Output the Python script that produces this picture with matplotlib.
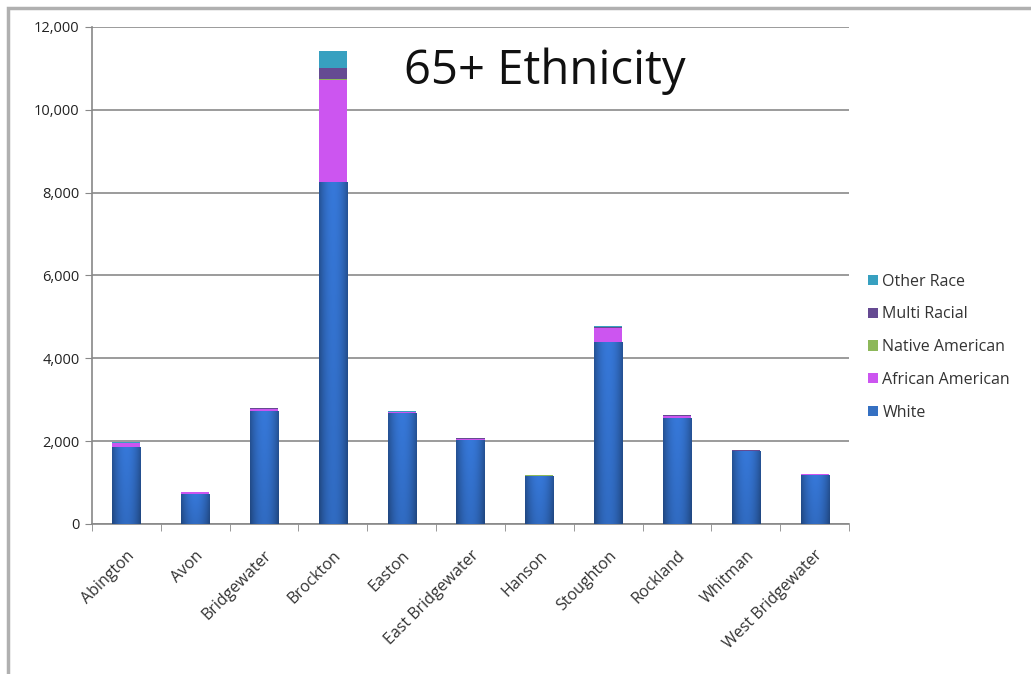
import matplotlib
matplotlib.use("Agg")
import matplotlib.pyplot as plt
import matplotlib.transforms as mtransforms
import numpy as np
from matplotlib.patches import Rectangle

towns = ["Abington", "Avon", "Bridgewater", "Brockton", "Easton", "East Bridgewater",
         "Hanson", "Stoughton", "Rockland", "Whitman", "West Bridgewater"]
white = [1870, 720, 2720, 8260, 2680, 2020, 1160, 4400, 2550, 1750, 1180]
african_american = [80, 40, 60, 2460, 20, 40, 10, 320, 60, 20, 20]
native_american = [5, 2, 5, 30, 3, 3, 2, 10, 5, 3, 3]
multi_racial = [10, 5, 10, 250, 10, 10, 5, 30, 10, 5, 5]
other_race = [10, 5, 10, 410, 10, 10, 5, 30, 10, 5, 5]

series = [("White", white, "#3570c2"),
          ("African American", african_american, "#cc55f0"),
          ("Native American", native_american, "#8db85a"),
          ("Multi Racial", multi_racial, "#654a92"),
          ("Other Race", other_race, "#37a0c0")]

plt.rcParams['font.family'] = ['Open Sans', 'DejaVu Sans']
fig = plt.figure(figsize=(10.31, 6.74), dpi=100)
ax = fig.add_axes([0.0892, 0.2226, 0.7343, 0.7374])

x = np.arange(len(towns))
bottom = np.zeros(len(towns))
handles = []
width = 0.41
for i, (name, vals, col) in enumerate(series):
    b = ax.bar(x, vals, width=width, bottom=bottom, color=col, label=name,
               edgecolor='none', zorder=3)
    handles.append(b)
    if i == 0:
        # gradient shading for the white (blue) bars
        gx = np.linspace(-1, 1, 64)
        gy = np.linspace(0, 1, 64)
        GX, GY = np.meshgrid(gx, gy)
        shade = 1 - 0.35 * GX**2 + 0.12 * GY
        base = np.array([0.19, 0.42, 0.76])
        img = np.clip(base[None, None, :] * shade[:, :, None], 0, 1)
        for rect in b.patches:
            x0 = rect.get_x(); w = rect.get_width()
            y0 = rect.get_y(); h = rect.get_height()
            im = ax.imshow(img, extent=(x0, x0 + w, y0, y0 + h), origin='lower',
                           aspect='auto', zorder=3.5, interpolation='bilinear')
            im.set_clip_path(rect)
    bottom += np.array(vals)

ax.set_xlim(-0.5, len(towns) - 0.5)
ax.set_ylim(0, 12000)
ax.set_yticks(np.arange(0, 12001, 2000))
ax.set_yticklabels([f"{v:,}" for v in range(0, 12001, 2000)], fontsize=10.5, color='#222222')
ax.yaxis.grid(True, color='#8a8a8a', linewidth=1.2, zorder=0)
ax.set_xticks(x)
ax.set_xticklabels(towns, rotation=45, ha='right', va='top', rotation_mode='anchor',
                   fontsize=11.5, color='#333333')
offset = mtransforms.ScaledTranslation(3 / 100, 0, fig.dpi_scale_trans)
for lab in ax.get_xticklabels():
    lab.set_transform(lab.get_transform() + offset)
ax.tick_params(axis='x', length=0, pad=17)
ax.set_xticks(np.arange(-0.5, len(towns), 1), minor=True)
ax.tick_params(axis='x', which='minor', length=5, color='#888888')
ax.tick_params(axis='y', length=5, color='#888888', pad=4)
for s in ['top', 'right']:
    ax.spines[s].set_visible(False)
for s in ['left', 'bottom']:
    ax.spines[s].set_color('#888888')
    ax.spines[s].set_linewidth(1.2)

ax.text(0.598, 0.91, "65+ Ethnicity", transform=ax.transAxes, fontsize=34,
        ha='center', va='center', color='#111111')

leg = fig.legend(handles[::-1], [s[0] for s in series][::-1], loc='center left',
                 bbox_to_anchor=(0.828, 0.485), frameon=False, fontsize=11.5,
                 handlelength=0.6, handleheight=0.6, handletextpad=0.3,
                 labelspacing=1.05, labelcolor='#333333')

fig.patches.append(Rectangle((0.008, -0.1), 1.2, 1.088, transform=fig.transFigure,
                             fill=False, edgecolor='#b0b0b0', linewidth=2.5))

fig.savefig("out.png", dpi=100)
